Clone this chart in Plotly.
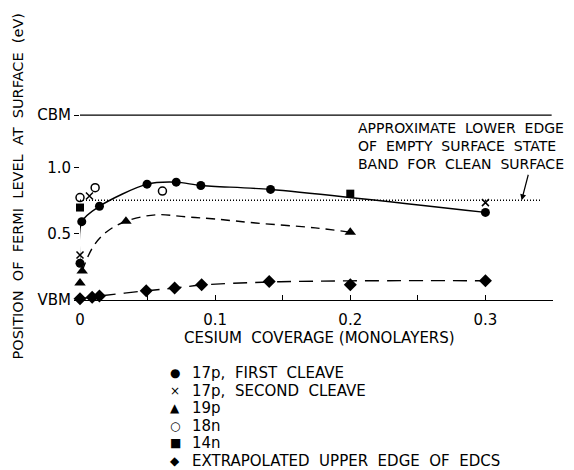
import plotly.graph_objects as go

# ---------------- data ----------------
# 17p, first cleave (filled circles)
p17a_x = [0.0, 0.0013, 0.0144, 0.0496, 0.0712, 0.0894, 0.141, 0.30]
p17a_y = [0.278, 0.593, 0.71, 0.877, 0.892, 0.867, 0.837, 0.663]
# 17p, second cleave (x)
p17b_x = [0.0, 0.007, 0.30]
p17b_y = [0.34, 0.787, 0.737]
# 19p (triangles)
p19_x = [0.0, 0.0016, 0.034, 0.20]
p19_y = [0.128, 0.22, 0.596, 0.513]
# 18n (open circles)
n18_x = [0.0, 0.0112, 0.061]
n18_y = [0.775, 0.85, 0.825]
# 14n (squares)
n14_x = [0.0, 0.20]
n14_y = [0.70, 0.805]
# extrapolated upper edge of EDCs (diamonds)
edc_x = [0.0, 0.009, 0.0144, 0.049, 0.07, 0.09, 0.14, 0.20, 0.30]
edc_y = [0.01, 0.02, 0.03, 0.07, 0.09, 0.116, 0.14, 0.116, 0.146]

# hand-drawn guide curves
p19_curve_x = [0.0016, 0.0095, 0.0193, 0.034, 0.056, 0.078, 0.10, 0.13, 0.174, 0.20]
p19_curve_y = [0.22, 0.40, 0.513, 0.596, 0.645, 0.63, 0.613, 0.583, 0.546, 0.513]
edc_curve_x = [0.0, 0.0144, 0.049, 0.07, 0.09, 0.14, 0.20, 0.30]
edc_curve_y = [0.01, 0.03, 0.07, 0.09, 0.113, 0.136, 0.145, 0.146]

# reference levels (eV above VBM)
cbm_level = 1.40
clean_edge_level = 0.755
cbm_line_x = [0.0, 0.349]
clean_edge_x = [0.0, 0.341]

# axis ticks
x_tickvals = [0.0, 0.1, 0.2, 0.3]
x_ticktext = ["0", "0.1", "0.2", "0.3"]
x_minor = [0.05, 0.15, 0.25, 0.35]
y_tickvals = [0.0, 0.5, 1.0, 1.4]
y_ticktext = ["VBM", "0.5", "1.0", "CBM"]

legend_symbols = ["\u25CF", "\u00D7", "\u25B2", "\u25CB", "\u25A0", "\u25C6"]
legend_texts = ["17p,  FIRST  CLEAVE", "17p,  SECOND  CLEAVE", "19p", "18n", "14n",
                "EXTRAPOLATED  UPPER  EDGE  OF  EDCS"]
note_lines = ["APPROXIMATE  LOWER  EDGE", "OF  EMPTY  SURFACE  STATE", "BAND  FOR  CLEAN  SURFACE"]

# ---------------- layout geometry (page pixels) ----------------
PAGE_W, PAGE_H = 574, 470
OFF = 8                      # default body margin of the page
W, H = PAGE_W - OFF, PAGE_H - OFF
L, R, T, B = 80, 553, 86, 300  # plot area in page pixels
FONT = "DejaVu Sans"


def px(xp):
    return (xp - L) / (R - L)


def py(yp):
    return (B - yp) / (B - T)


fig = go.Figure()
blk = "black"

# reference lines
fig.add_trace(go.Scatter(x=cbm_line_x, y=[cbm_level] * 2, mode="lines",
                         line=dict(color=blk, width=1.3), showlegend=False, hoverinfo="skip"))
fig.add_trace(go.Scatter(x=clean_edge_x, y=[clean_edge_level] * 2, mode="lines",
                         line=dict(color=blk, width=1.3, dash="1px,2px"), showlegend=False,
                         hoverinfo="skip"))

# curves
fig.add_trace(go.Scatter(x=p17a_x, y=p17a_y, mode="lines", line=dict(color=blk, width=1.4,
                         shape="spline", smoothing=0.8), showlegend=False, hoverinfo="skip"))
fig.add_trace(go.Scatter(x=p19_curve_x, y=p19_curve_y, mode="lines",
                         line=dict(color=blk, width=1.4, shape="spline", dash="9px,6px"),
                         showlegend=False, hoverinfo="skip"))
fig.add_trace(go.Scatter(x=edc_curve_x, y=edc_curve_y, mode="lines",
                         line=dict(color=blk, width=1.4, shape="spline", dash="14px,8px"),
                         showlegend=False, hoverinfo="skip"))

# markers
mk = dict(mode="markers", cliponaxis=False)
fig.add_trace(go.Scatter(x=p17a_x, y=p17a_y, name="17p, first cleave",
                         marker=dict(symbol="circle", size=9, color=blk), **mk))
fig.add_trace(go.Scatter(x=p17b_x, y=p17b_y, name="17p, second cleave",
                         marker=dict(symbol="x-thin-open", size=7, color=blk,
                                     line=dict(width=1.5, color=blk)), **mk))
fig.add_trace(go.Scatter(x=p19_x, y=p19_y, name="19p",
                         marker=dict(symbol="triangle-up", size=10, color=blk), **mk))
fig.add_trace(go.Scatter(x=n18_x, y=n18_y, name="18n",
                         marker=dict(symbol="circle-open", size=8, color=blk,
                                     line=dict(width=1.5, color=blk)), **mk))
fig.add_trace(go.Scatter(x=n14_x, y=n14_y, name="14n",
                         marker=dict(symbol="square", size=8, color=blk), **mk))
fig.add_trace(go.Scatter(x=edc_x, y=edc_y, name="Extrapolated upper edge of EDCs",
                         marker=dict(symbol="diamond", size=10, color=blk), **mk))

ann = []
# y-axis title
ann.append(dict(text="POSITION  OF  FERMI  LEVEL  AT  SURFACE  (eV)", textangle=-90,
                xref="paper", yref="paper", x=px(17.5), y=py(186), showarrow=False,
                xanchor="center", yanchor="middle", font=dict(size=14.5)))
# x-axis title
ann.append(dict(text="CESIUM  COVERAGE (MONOLAYERS)", xref="paper", yref="paper",
                x=px(319), y=py(337.5), showarrow=False, xanchor="center", yanchor="middle",
                font=dict(size=15)))
# note text (one block of three lines)
ann.append(dict(text="<br>".join(note_lines), xref="paper", yref="paper", x=px(356),
                y=py(145.7), showarrow=False, xanchor="left", yanchor="middle", align="left",
                font=dict(size=14)))
# arrow to the dotted line
ann.append(dict(text="", x=0.3268, y=clean_edge_level, xref="x", yref="y", ax=7, ay=-27,
                showarrow=True, arrowhead=2, arrowsize=1, arrowwidth=1.2, arrowcolor=blk))
# legend (drawn as text)
for i, (s, t) in enumerate(zip(legend_symbols, legend_texts)):
    yy = py(373 + 17.5 * i)
    ann.append(dict(text=s, xref="paper", yref="paper", x=px(175), y=yy, showarrow=False,
                    xanchor="center", yanchor="middle", font=dict(size=12)))
    ann.append(dict(text=t, xref="paper", yref="paper", x=px(190), y=yy, showarrow=False,
                    xanchor="left", yanchor="middle", font=dict(size=15)))

fig.update_layout(
    width=W, height=H,
    margin=dict(l=L - OFF, r=W - (R - OFF), t=T - OFF, b=H - (B - OFF), pad=0),
    paper_bgcolor="white", plot_bgcolor="white",
    font=dict(family=FONT, color=blk, size=15),
    showlegend=False,
    annotations=ann,
    xaxis=dict(range=[0, 0.35], showgrid=False, zeroline=False, showline=True,
               linecolor=blk, linewidth=1.3, ticks="inside", ticklen=5, tickwidth=1.3,
               tickcolor=blk, tickvals=x_tickvals, ticktext=x_ticktext,
               ticklabelstandoff=6,
               minor=dict(tickvals=x_minor, ticks="inside", ticklen=5, tickwidth=1.3,
                          tickcolor=blk, showgrid=False),
               tickfont=dict(size=15)),
    yaxis=dict(range=[0, 1.62], showgrid=False, zeroline=False, showline=False,
               ticks="outside", ticklen=5, tickwidth=1.3, tickcolor=blk,
               tickvals=y_tickvals, ticktext=y_ticktext, tickfont=dict(size=15)),
)

fig.write_html("out.html")
